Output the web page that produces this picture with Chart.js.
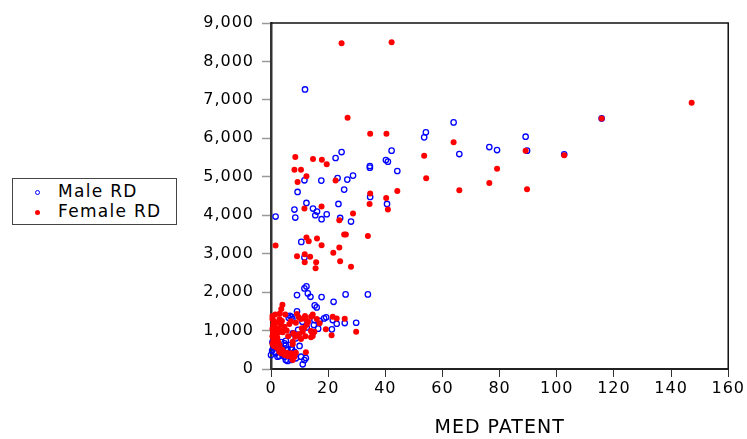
<!DOCTYPE html>
<html>
<head>
<meta charset="utf-8">
<script src="https://cdn.jsdelivr.net/npm/chart.js@4.4.1/dist/chart.umd.min.js"></script>
<style>
html,body{margin:0;padding:0;background:#fff;}
#wrap{position:relative;width:747px;height:439px;}
#c{position:absolute;left:0;top:0;}
#legend{position:absolute;left:12px;top:178px;width:165px;height:47px;border:1px solid #444;box-sizing:border-box;background:#fff;font-family:"DejaVu Sans",sans-serif;font-size:17px;letter-spacing:1.3px;color:#000;}
.txt{position:absolute;left:45px;line-height:20px;white-space:nowrap;}
.mk{position:absolute;width:5px;height:5px;border-radius:50%;box-sizing:border-box;}
</style>
</head>
<body>
<div id="wrap">
<canvas id="c" width="747" height="439"></canvas>
<div id="legend">
  <span class="mk" style="left:22px;top:11px;border:1.2px solid #0000ff;"></span>
  <span class="txt" style="top:2px;">Male RD</span>
  <span class="mk" style="left:22px;top:31px;background:#ff0000;"></span>
  <span class="txt" style="top:22px;">Female RD</span>
</div>
</div>
<script>
// ---- data (x = MED PATENT, y = RD) ----
const seriesNames = ['Male RD', 'Female RD'];
const xTicks = [0, 20, 40, 60, 80, 100, 120, 140, 160];
const yTicks = [0, 1000, 2000, 3000, 4000, 5000, 6000, 7000, 8000, 9000];
const yTickLabels = ['0', '1,000', '2,000', '3,000', '4,000', '5,000', '6,000', '7,000', '8,000', '9,000'];
const xTitle = 'MED PATENT';

const maleRD = [
 [11.9,7272],[63.9,6415],[54.2,6155],[53.6,6025],[24.7,5643],[42.2,5680],[22.6,5488],[65.9,5591],
 [76.4,5773],[79.1,5695],[34.6,5280],[34.6,5238],[40.2,5436],[40.9,5394],[44.2,5150],[11.7,4908],
 [17.6,4900],[23.3,4968],[26.7,4927],[28.7,5030],[9.3,4605],[25.6,4667],[34.7,4475],[115.7,6518],
 [89.1,6043],[89.6,5680],[102.6,5585],[40.6,4293],[23.6,4293],[24.2,3929],[28.0,3836],[26.1,1940],
 [33.9,1940],[12.4,4319],[8.2,4147],[14.7,4173],[16.1,4095],[15.5,3999],[19.5,4025],[17.7,3896],
 [1.6,3965],[8.5,3939],[10.6,3306],[11.7,2900],[12.4,2148],[11.7,2096],[9.1,1922],[12.9,1966],
 [13.8,1878],[17.7,1870],[21.9,1748],[15.3,1654],[16.0,1602],[9.1,1498],[6.6,1384],[7.2,1358],
 [6.2,1333],[19.3,1343],[15.0,1143],[21.6,1273],[23.0,1177],[25.8,1195],[29.8,1203],[21.3,1031],
 [15.2,1273],[18.6,1316],[14.6,943],[7.6,927],[8.7,797],[5.2,735],[4.7,667],[6.4,623],[5.2,623],
 [3.1,538],[4.1,538],[7.3,538],[5.8,493],[7.0,511],[1.2,449],[8.2,449],[1.7,407],[0.0,364],
 [2.3,320],[4.7,320],[10.5,320],[12.2,286],[8.7,278],[5.2,234],[7.0,234],[11.7,234],[5.8,208],
 [11.1,122],[2.9,338],[4.1,364],[0.5,700],[1.0,560],[0.4,480],[2.0,620],[9.5,1020],[11.0,1230],
 [12.5,1080],[10.0,600],[3.5,700],[2.2,1000],[16.5,1050],[7.5,1300],[17.0,1250]
];

const femaleRD = [
 [24.7,8474],[42.2,8500],[26.8,6537],[34.7,6121],[40.4,6121],[8.5,5513],[14.7,5461],[17.8,5446],
 [19.5,5324],[8.2,5186],[10.5,5186],[12.4,5012],[9.3,4864],[22.6,4900],[53.6,5550],[63.9,5895],
 [79.1,5212],[76.4,4838],[54.3,4960],[65.9,4649],[44.2,4631],[34.7,4563],[40.3,4449],[147.2,6926],
 [115.7,6518],[89.1,5680],[102.6,5558],[89.6,4675],[34.5,4293],[40.9,4147],[28.7,4043],[23.9,3870],
 [25.6,3498],[26.2,3498],[33.9,3462],[23.9,3160],[24.2,2805],[28.0,2657],[17.7,4225],[11.7,4173],
 [1.6,3212],[12.4,3420],[13.2,3324],[16.1,3394],[17.7,3220],[21.8,3021],[9.1,2935],[11.8,2987],
 [13.7,2917],[11.8,2779],[15.8,2779],[15.6,2623],[4.0,1670],[21.6,1358],[23.0,1316],[25.8,1306],
 [29.8,969],[21.2,875],[1.5,1420],[3.1,1446],[9.1,1428],[9.7,1343],[11.9,1376],[14.0,1358],
 [14.6,1420],[17.0,1187],[19.2,1031],[6.4,1169],[7.0,1239],[8.7,1203],[10.8,1057],[11.7,1073],
 [11.1,969],[15.2,969],[14.0,987],[14.6,943],[14.6,857],[14.0,823],[9.7,901],[9.7,883],[8.5,839],
 [7.8,927],[7.6,709],[7.6,641],[12.2,433],[4.7,1099],[4.1,953],[3.5,407],[4.7,364],[7.0,407],
 [8.2,320],[8.7,424],[7.6,234],[2.9,449],[7.0,364],
 [0.5,1300],[1.0,1250],[0.8,1150],[1.2,1100],[2.0,1200],[0.5,1050],[1.5,1000],[2.5,1050],
 [0.7,950],[1.8,900],[0.5,850],[1.2,800],[2.2,820],[0.8,750],[1.6,700],[0.5,650],[2.5,700],
 [1.0,600],[3.0,1300],[2.6,950],[3.5,1150],[3.8,1250],[4.0,1000],[0.5,1380],[2.0,550],[3.0,620],
 [5.5,420],[6.0,330],[4.0,500],[12.0,1300],[13.0,1230],[10.5,1300],[12.5,1150],[16.0,1300],
 [5.5,1000],[6.0,850],[10.5,780],[12.0,850],[5.0,1420],[3.6,1560]
];

const toPts = arr => arr.map(p => ({x: p[0], y: p[1]}));

const spacing = {
  id: 'spacing',
  beforeLayout(c){ c.ctx.letterSpacing = '1px'; },
  beforeDraw(c){ c.ctx.letterSpacing = '1px'; }
};
const frame = {
  id: 'frame',
  afterDraw(c){
    const a = c.chartArea, ctx = c.ctx;
    ctx.save();
    ctx.strokeStyle = '#111';
    ctx.lineWidth = 1.5;
    ctx.beginPath();
    ctx.moveTo(a.left, a.top);
    ctx.lineTo(a.right, a.top);
    ctx.lineTo(a.right, a.bottom);
    ctx.stroke();
    ctx.restore();
  }
};

new Chart(document.getElementById('c'), {
  type: 'scatter',
  data: {
    datasets: [
      {label: seriesNames[1], data: toPts(femaleRD), backgroundColor: '#ff0000', borderColor: '#ff0000',
       borderWidth: 0, pointRadius: 3, pointHoverRadius: 3, clip: false},
      {label: seriesNames[0], data: toPts(maleRD), backgroundColor: 'rgba(255,255,255,0)', borderColor: '#0000ff',
       borderWidth: 1.3, pointRadius: 2.7, pointHoverRadius: 2.7, clip: false}
    ]
  },
  options: {
    responsive: false,
    animation: false,
    devicePixelRatio: 1,
    layout: {padding: {left: 0, top: 23, right: 18, bottom: 0}},
    plugins: {legend: {display: false}, tooltip: {enabled: false}},
    scales: {
      x: {
        type: 'linear', min: 0, max: 160,
        afterBuildTicks: s => { s.ticks = xTicks.map(v => ({value: v})); },
        afterFit: s => { s.height = 70; },
        grid: {drawOnChartArea: false, drawTicks: true, tickLength: 8, color: '#333', tickWidth: 1},
        border: {color: '#222', width: 2},
        ticks: {color: '#000', font: {family: 'DejaVu Sans', size: 16}, padding: 2, maxRotation: 0, autoSkip: false,
                callback: v => String(v)},
        title: {display: true, text: xTitle, color: '#000', font: {family: 'DejaVu Sans', size: 19}, padding: {top: 0, bottom: 0}}
      },
      y: {
        type: 'linear', min: 0, max: 9000,
        afterBuildTicks: s => { s.ticks = yTicks.map(v => ({value: v})); },
        afterFit: s => { s.width = 271; },
        grid: {drawOnChartArea: false, drawTicks: true, tickLength: 9, color: '#999', tickWidth: 1.5},
        border: {color: '#333', width: 2.5},
        ticks: {color: '#000', font: {family: 'DejaVu Sans', size: 16}, padding: 8, autoSkip: false,
                callback: (v, i) => yTickLabels[yTicks.indexOf(v)]}
      }
    }
  },
  plugins: [spacing, frame]
});
</script>
</body>
</html>
